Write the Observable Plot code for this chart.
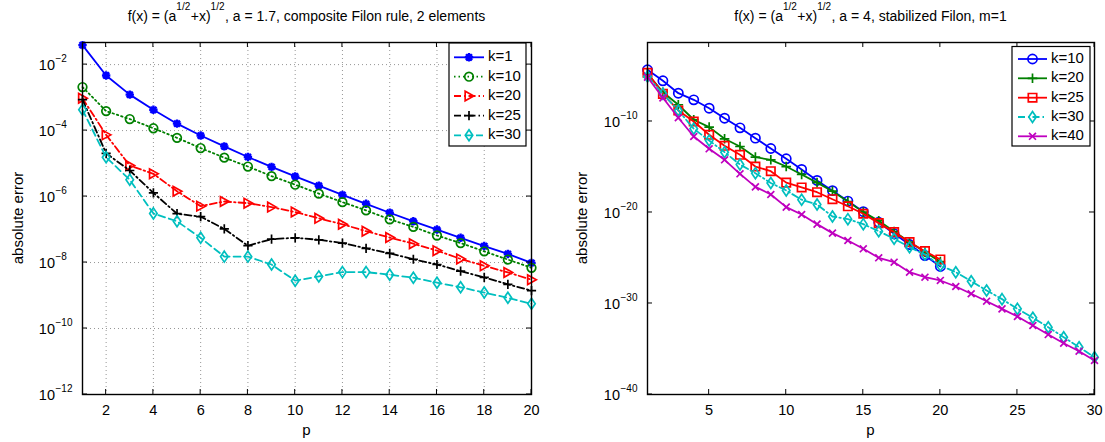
<!DOCTYPE html>
<html><head><meta charset="utf-8">
<script src="https://cdn.jsdelivr.net/npm/d3@7"></script>
<script src="https://cdn.jsdelivr.net/npm/@observablehq/plot@0.6"></script>
<style>
html,body{margin:0;padding:0;background:#fff;}
#wrap{position:relative;width:1105px;height:442px;overflow:hidden;font-family:"Liberation Sans",Arial,Helvetica,sans-serif;}
.panel{position:absolute;top:0;}
</style></head><body>
<div id="wrap"></div>
<script>
// ---------- data (log10 of absolute error) ----------
const pLeft = [1,2,3,4,5,6,7,8,9,10,11,12,13,14,15,16,17,18,19,20];
const left_k1  = [-1.41,-2.33,-2.91,-3.37,-3.79,-4.15,-4.48,-4.80,-5.10,-5.39,-5.67,-5.95,-6.22,-6.49,-6.75,-7.00,-7.25,-7.50,-7.74,-8.01];
const left_k10 = [-2.68,-3.41,-3.65,-3.93,-4.22,-4.53,-4.82,-5.09,-5.38,-5.64,-5.91,-6.17,-6.42,-6.69,-6.92,-7.18,-7.41,-7.66,-7.91,-8.16];
const left_k20 = [-3.02,-4.13,-5.06,-5.31,-5.84,-6.29,-6.15,-6.20,-6.32,-6.47,-6.66,-6.84,-7.05,-7.24,-7.43,-7.64,-7.89,-8.10,-8.30,-8.52];
const left_k25 = [-3.06,-4.69,-5.21,-5.89,-6.52,-6.61,-6.98,-7.49,-7.29,-7.25,-7.31,-7.41,-7.57,-7.72,-7.90,-8.06,-8.26,-8.45,-8.66,-8.85];
const left_k30 = [-3.37,-4.81,-5.49,-6.51,-6.75,-7.25,-7.82,-7.82,-8.06,-8.55,-8.42,-8.29,-8.29,-8.37,-8.46,-8.61,-8.75,-8.91,-9.07,-9.25];

const pRight20 = [1,2,3,4,5,6,7,8,9,10,11,12,13,14,15,16,17,18,19,20];
const pRight30 = [1,2,3,4,5,6,7,8,9,10,11,12,13,14,15,16,17,18,19,20,21,22,23,24,25,26,27,28,29,30];
const right_k10 = [-4.32,-5.53,-6.89,-7.62,-8.54,-9.64,-10.70,-11.83,-12.97,-14.10,-15.27,-16.48,-17.60,-18.75,-19.91,-21.07,-22.34,-23.52,-24.73,-25.93];
const right_k20 = [-4.76,-6.78,-8.16,-9.81,-10.62,-11.90,-12.75,-13.92,-14.21,-14.95,-15.82,-16.72,-17.66,-18.79,-19.96,-20.90,-22.10,-23.25,-24.35,-25.40];
const right_k25 = [-4.65,-6.96,-8.79,-10.00,-11.46,-12.67,-13.66,-14.95,-15.46,-16.72,-17.25,-17.77,-18.54,-19.32,-20.14,-21.17,-22.16,-23.26,-24.25,-25.16];
const right_k30 = [-5.05,-6.96,-8.79,-10.80,-12.09,-13.37,-14.73,-15.68,-16.76,-17.58,-18.60,-19.12,-20.44,-20.73,-21.28,-22.05,-22.89,-23.81,-24.62,-25.82,-26.56,-27.55,-28.57,-29.52,-30.59,-31.57,-32.60,-33.70,-34.80,-35.90];
const right_k40 = [-5.13,-7.40,-9.59,-11.65,-13.00,-14.21,-15.75,-17.18,-18.02,-19.41,-20.22,-21.28,-22.27,-23.08,-23.99,-24.98,-25.46,-26.56,-27.11,-27.47,-28.13,-28.93,-29.75,-30.59,-31.43,-32.42,-33.41,-34.36,-35.24,-36.26];

const leftXTicks = [2,4,6,8,10,12,14,16,18,20];
const leftYTicks = [1e-2,1e-4,1e-6,1e-8,1e-10,1e-12];
const rightXTicks = [5,10,15,20,25,30];
const rightYTicks = [1e-10,1e-20,1e-30,1e-40];
const leftLabels = ["k=1","k=10","k=20","k=25","k=30"];
const rightLabels = ["k=10","k=20","k=25","k=30","k=40"];
// title pieces: [text, isSuperscript]
const leftTitle = [["f(x) = (a",0],["1/2",1],["+x)",0],["1/2",1],[", a = 1.7, composite Filon rule, 2 elements",0]];
const rightTitle = [["f(x) = (a",0],["1/2",1],["+x)",0],["1/2",1],[", a = 4, stabilized Filon, m=1",0]];

// ---------- marker shapes (MATLAB-like) ----------
function sym(f){ return {draw(c,size){ f(c, Math.sqrt(size/Math.PI)); }}; }
const SYM = {
  circle: sym((c,r)=>{c.moveTo(r,0);c.arc(0,0,r,0,2*Math.PI);}),
  plus: sym((c,r)=>{c.moveTo(-r,0);c.lineTo(r,0);c.moveTo(0,-r);c.lineTo(0,r);}),
  times: sym((c,r)=>{const a=r*0.75;c.moveTo(-a,-a);c.lineTo(a,a);c.moveTo(-a,a);c.lineTo(a,-a);}),
  square: sym((c,r)=>{c.rect(-r,-r,2*r,2*r);}),
  diamond: sym((c,r)=>{c.moveTo(0,-r*1.25);c.lineTo(r*0.85,0);c.lineTo(0,r*1.25);c.lineTo(-r*0.85,0);c.closePath();}),
  triRight: sym((c,r)=>{c.moveTo(r,0);c.lineTo(-r*0.8,-r);c.lineTo(-r*0.8,r);c.closePath();}),
  asterisk: sym((c,r)=>{const a=r*0.72;c.moveTo(-r,0);c.lineTo(r,0);c.moveTo(0,-r);c.lineTo(0,r);c.moveTo(-a,-a);c.lineTo(a,a);c.moveTo(-a,a);c.lineTo(a,-a);})
};
const B="#0000ff", G="#008000", R="#ff0000", K="#000000", C="#00bfbf", M="#bf00bf";
const DOT="1.5,3", DASHDOT="7,3,1.5,3", DASH="7,4";
const LW = 1.8;

const W = 552, H = 442;

function makePanel(cfg){
  const {series, xDomain, yDomain, xTicks, yTicks, m, grid, labels, legend, ylabelX} = cfg;
  const marks = [];
  if (grid) {
    marks.push(Plot.ruleX(xTicks, {stroke:"#000", strokeOpacity:0.6, strokeWidth:0.7, strokeDasharray:"1,3"}));
    marks.push(Plot.ruleY(yTicks, {stroke:"#000", strokeOpacity:0.6, strokeWidth:0.7, strokeDasharray:"1,3"}));
  }
  series.forEach(s => {
    const d = s.p.map((p,i)=>({p, err: Math.pow(10, s.e[i])}));
    const lo = {x:"p", y:"err", stroke:s.color, strokeWidth:LW};
    if (s.dash) lo.strokeDasharray = s.dash;
    marks.push(Plot.line(d, lo));
    marks.push(Plot.dot(d, {x:"p", y:"err", symbol:s.sym, r:s.r, stroke:s.color, fill:"none", strokeWidth:s.sw||1.7}));
  });
  marks.push(Plot.text(yTicks, {x:()=>xDomain[0], y:d=>d, text:()=>"10", textAnchor:"end", dx:-27.5, dy:0.5, fontSize:14.5}));
  marks.push(Plot.text(yTicks, {x:()=>xDomain[0], y:d=>d, text:d=>"\u2212"+Math.round(-Math.log10(d)), textAnchor:"start", dx:-27, dy:-6, fontSize:10}));
  marks.push(Plot.frame({stroke:"#000", strokeWidth:1.4}));
  const plot = Plot.plot({
    width: W, height: H,
    marginLeft: m.left, marginRight: m.right, marginTop: m.top, marginBottom: m.bottom,
    style: {fontFamily:'"Liberation Sans", Arial, sans-serif', fontSize:"14.5px", background:"transparent", color:"#000"},
    x: {domain: xDomain, ticks: xTicks, tickSize: 0, tickPadding: 10, label: null},
    y: {type:"log", domain: yDomain, axis: null},
    marks
  });
  const svg = d3.select(plot);
  const xs = d3.scaleLinear(xDomain, [m.left, W - m.right]);
  const ys = d3.scaleLog(yDomain, [H - m.bottom, m.top]);
  const tg = svg.append("g").attr("stroke","#000").attr("stroke-width",1);
  const L = 5;
  xTicks.forEach(v => {
    const x = xs(v);
    tg.append("line").attr("x1",x).attr("x2",x).attr("y1",H-m.bottom).attr("y2",H-m.bottom-L);
    tg.append("line").attr("x1",x).attr("x2",x).attr("y1",m.top).attr("y2",m.top+L);
  });
  yTicks.forEach(v => {
    const y = ys(v);
    tg.append("line").attr("x1",m.left).attr("x2",m.left+L).attr("y1",y).attr("y2",y);
    tg.append("line").attr("x1",W-m.right).attr("x2",W-m.right-L).attr("y1",y).attr("y2",y);
  });
  // axis labels
  svg.append("text").attr("transform",`translate(${ylabelX},${(m.top+H-m.bottom)/2}) rotate(-90)`)
    .attr("text-anchor","middle").attr("dominant-baseline","middle").attr("font-size",15).text("absolute error");
  svg.append("text").attr("x",(m.left+W-m.right)/2).attr("y",435).attr("text-anchor","middle").attr("font-size",15).text("p");
  // legend
  const lg = svg.append("g");
  lg.append("rect").attr("x",legend.x0).attr("y",legend.y0).attr("width",legend.x1-legend.x0).attr("height",legend.y1-legend.y0)
    .attr("fill","#fff").attr("stroke","#000").attr("stroke-width",1.2);
  series.forEach((s,i) => {
    const y = legend.rows[i];
    const ln = lg.append("line").attr("x1",legend.lx0).attr("x2",legend.lx1).attr("y1",y).attr("y2",y)
      .attr("stroke",s.color).attr("stroke-width",LW);
    if (s.dash) ln.attr("stroke-dasharray", s.dash);
    lg.append("path").attr("d", d3.symbol(s.sym, Math.PI*s.r*s.r)()).attr("transform",`translate(${(legend.lx0+legend.lx1)/2},${y})`)
      .attr("fill","none").attr("stroke",s.color).attr("stroke-width",s.sw||1.7);
    lg.append("text").attr("x",legend.tx).attr("y",y).attr("text-anchor","start").attr("dominant-baseline","middle")
      .attr("font-size",15).text(labels[i]);
  });
  return plot;
}

// title with superscripts: pieces measured after the SVG is in the document
function addTitle(plot, pieces, cx, baseY){
  const g = d3.select(plot).append("g");
  let x = 0;
  pieces.forEach(([txt, sup]) => {
    const t = g.append("text").attr("x", x).attr("y", sup ? baseY - 11 : baseY)
      .attr("text-anchor","start").attr("font-size", sup ? 10 : 14).text(txt);
    x += t.node().getComputedTextLength() + (sup ? 0.5 : 0);
  });
  g.attr("transform", `translate(${cx - x/2},0)`);
}

const wrap = document.getElementById("wrap");

const leftSeries = [
  {p:pLeft, e:left_k1,  color:B, sym:SYM.asterisk, r:4.2, sw:2.4},
  {p:pLeft, e:left_k10, color:G, sym:SYM.circle,   r:4.3, dash:DOT},
  {p:pLeft, e:left_k20, color:R, sym:SYM.triRight, r:4.8, dash:DASHDOT},
  {p:pLeft, e:left_k25, color:K, sym:SYM.plus,     r:4.6, dash:DASHDOT},
  {p:pLeft, e:left_k30, color:C, sym:SYM.diamond,  r:4.4, dash:DASH}
];
const leftM = {left:82, right:21, top:42, bottom:48};
const leftPlot = makePanel({
  series:leftSeries, xDomain:[1,20], yDomain:[1e-12, Math.pow(10,-1.33)],
  xTicks:leftXTicks, yTicks:leftYTicks, grid:true, labels:leftLabels, ylabelX:19,
  m:leftM,
  legend:{x0:449, x1:526, y0:43, y1:146, rows:[57.3,76.7,96,115.7,135.3], lx0:454, lx1:484, tx:488}
});
leftPlot.classList.add("panel"); leftPlot.style.left = "0px";
wrap.appendChild(leftPlot);
addTitle(leftPlot, leftTitle, (leftM.left + W - leftM.right)/2, 21);

const rightSeries = [
  {p:pRight20, e:right_k10, color:B, sym:SYM.circle,  r:4.6},
  {p:pRight20, e:right_k20, color:G, sym:SYM.plus,    r:4.8},
  {p:pRight20, e:right_k25, color:R, sym:SYM.square,  r:4.2},
  {p:pRight30, e:right_k30, color:C, sym:SYM.diamond, r:4.4, dash:DASHDOT},
  {p:pRight30, e:right_k40, color:M, sym:SYM.times,   r:4.6}
];
const rightM = {left:94, right:11, top:42, bottom:48};
const rightPlot = makePanel({
  series:rightSeries, xDomain:[1,30], yDomain:[1e-40, Math.pow(10,-1.32)],
  xTicks:rightXTicks, yTicks:rightYTicks, grid:false, labels:rightLabels, ylabelX:30,
  m:rightM,
  legend:{x0:459, x1:537, y0:46.5, y1:146, rows:[59,78.3,97.7,117,136.3], lx0:465, lx1:494, tx:498}
});
rightPlot.classList.add("panel"); rightPlot.style.left = "553px";
wrap.appendChild(rightPlot);
addTitle(rightPlot, rightTitle, (rightM.left + W - rightM.right)/2, 21);
</script></body></html>
